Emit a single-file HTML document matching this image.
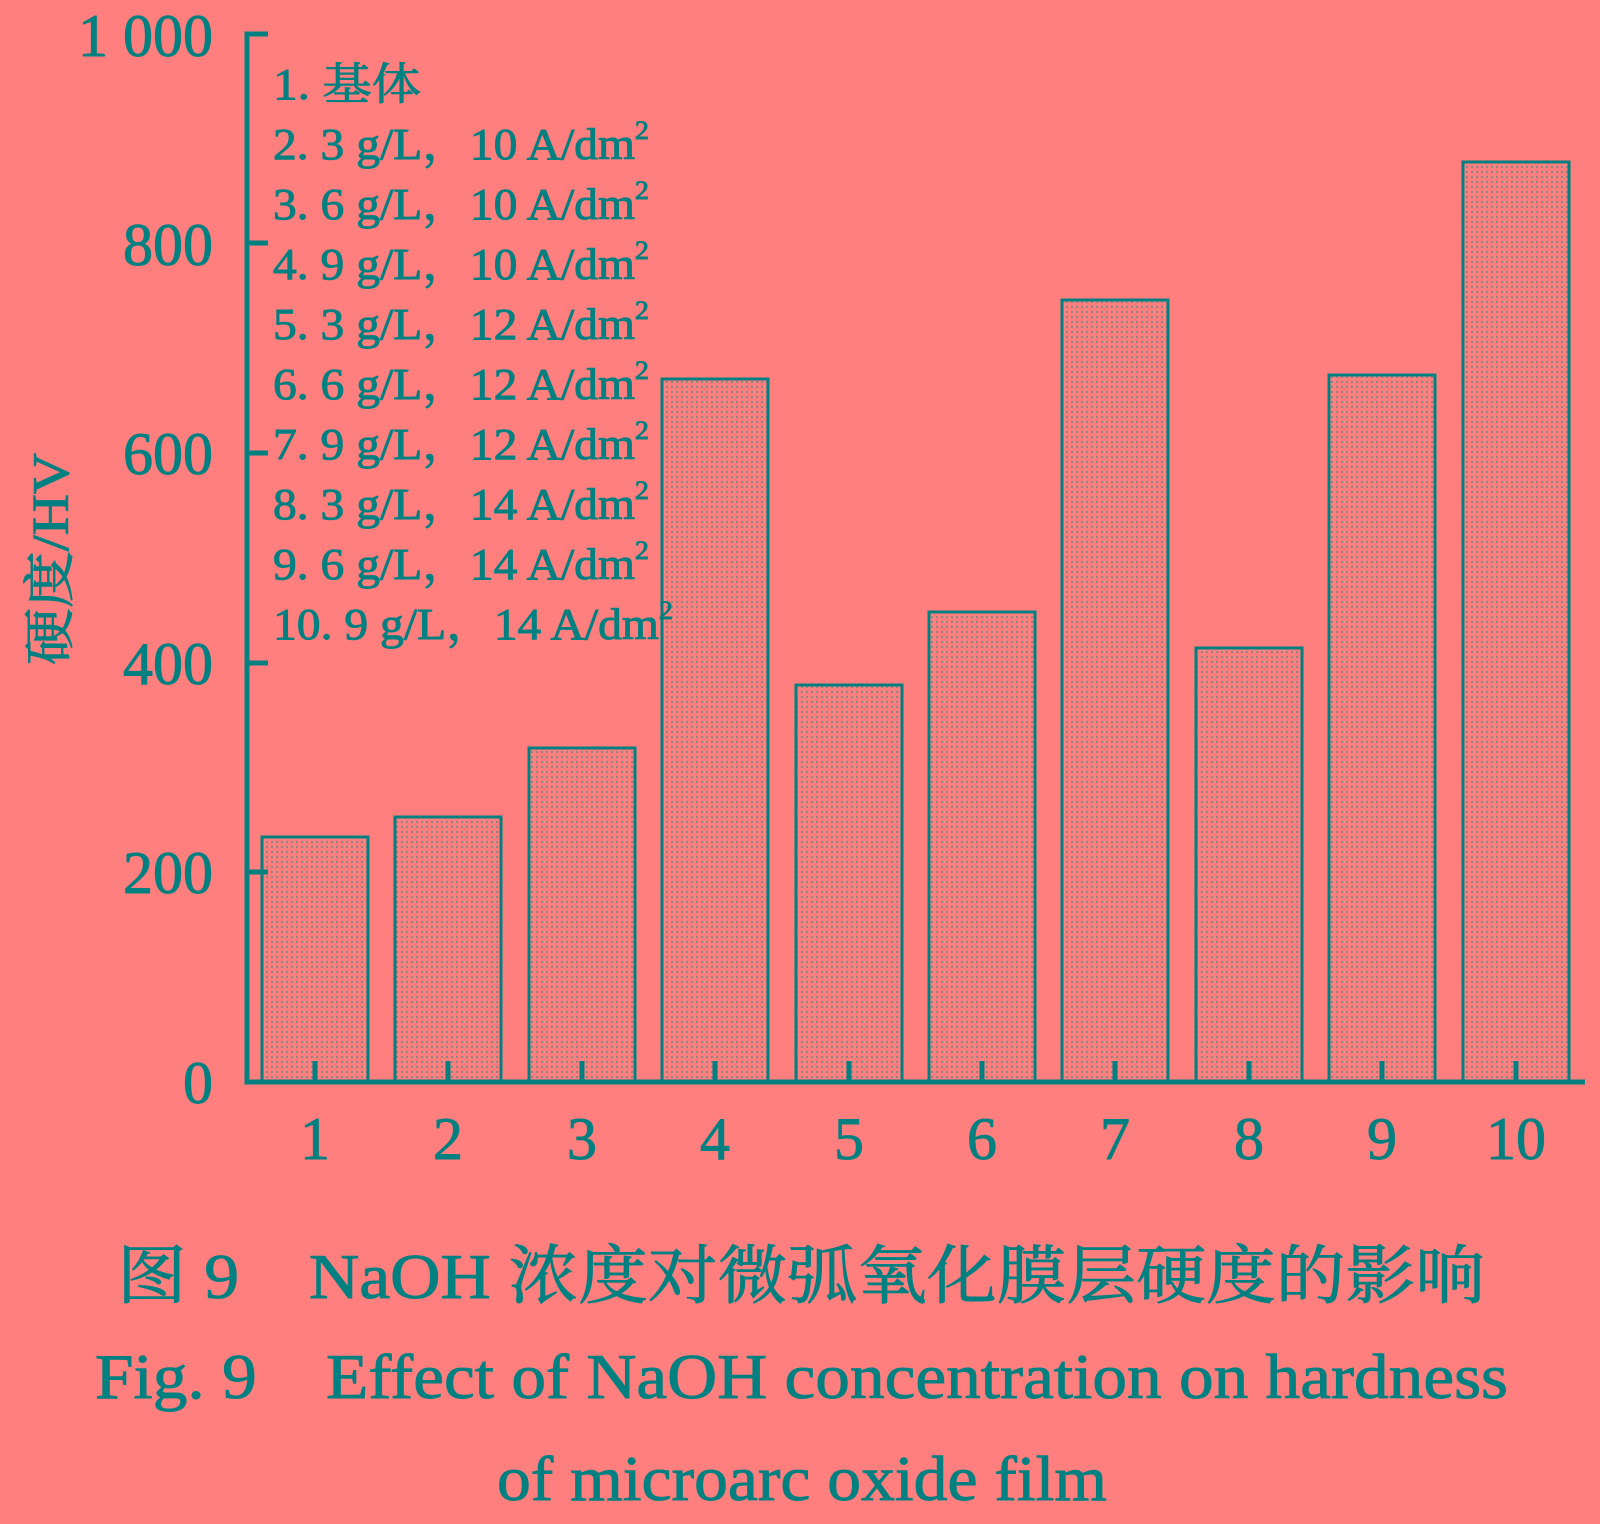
<!DOCTYPE html>
<html><head><meta charset="utf-8"><style>
html,body{margin:0;padding:0;background:#FF7F7F;}
svg{display:block;}
text{fill:#008080;stroke:#008080;stroke-width:0.9;font-family:"Liberation Serif","Noto Serif CJK SC",serif;}
</style></head><body>
<svg width="1600" height="1524" viewBox="0 0 1600 1524" xmlns="http://www.w3.org/2000/svg">
<defs>
<pattern id="dots" width="5" height="5" patternUnits="userSpaceOnUse">
<rect width="5" height="5" fill="#FF7F7F"/>
<rect x="1" y="1" width="2" height="2" fill="#2f8a86" opacity="0.55"/>
</pattern>
</defs>
<rect width="1600" height="1524" fill="#FF7F7F"/>
<g stroke="#008080" stroke-width="3" fill="url(#dots)">
<rect x="262" y="837" width="106" height="245"/>
<rect x="395" y="817" width="106" height="265"/>
<rect x="529" y="748" width="106" height="334"/>
<rect x="662" y="379" width="106" height="703"/>
<rect x="796" y="685" width="106" height="397"/>
<rect x="929" y="612" width="106" height="470"/>
<rect x="1062" y="300" width="106" height="782"/>
<rect x="1196" y="648" width="106" height="434"/>
<rect x="1329" y="375" width="106" height="707"/>
<rect x="1463" y="162" width="106" height="920"/>
</g>
<g stroke="#008080" stroke-width="5" fill="none">
<polyline points="268,34 247,34 247,1082 1585,1082"/>
<line x1="247" y1="243" x2="268" y2="243"/>
<line x1="247" y1="453" x2="268" y2="453"/>
<line x1="247" y1="663" x2="268" y2="663"/>
<line x1="247" y1="872" x2="268" y2="872"/>
<line x1="315" y1="1082" x2="315" y2="1061"/>
<line x1="448" y1="1082" x2="448" y2="1061"/>
<line x1="582" y1="1082" x2="582" y2="1061"/>
<line x1="715" y1="1082" x2="715" y2="1061"/>
<line x1="849" y1="1082" x2="849" y2="1061"/>
<line x1="982" y1="1082" x2="982" y2="1061"/>
<line x1="1115" y1="1082" x2="1115" y2="1061"/>
<line x1="1249" y1="1082" x2="1249" y2="1061"/>
<line x1="1382" y1="1082" x2="1382" y2="1061"/>
<line x1="1516" y1="1082" x2="1516" y2="1061"/>
</g>
<g font-size="60" text-anchor="end">
<text x="213" y="56">1 000</text>
<text x="213" y="265">800</text>
<text x="213" y="474">600</text>
<text x="213" y="684">400</text>
<text x="213" y="893">200</text>
<text x="213" y="1103">0</text>
</g>
<g font-size="60" text-anchor="middle">
<text x="315" y="1159">1</text>
<text x="448" y="1159">2</text>
<text x="582" y="1159">3</text>
<text x="715" y="1159">4</text>
<text x="849" y="1159">5</text>
<text x="982" y="1159">6</text>
<text x="1115" y="1159">7</text>
<text x="1249" y="1159">8</text>
<text x="1382" y="1159">9</text>
<text x="1516" y="1159">10</text>
</g>
<text transform="translate(68,559) rotate(-90)" font-size="52" text-anchor="middle" textLength="212" lengthAdjust="spacingAndGlyphs">硬度/HV</text>
<g font-size="44">
<text x="273" y="99" textLength="148" lengthAdjust="spacingAndGlyphs">1. 基体</text>
<text x="273" y="159" textLength="376" lengthAdjust="spacingAndGlyphs">2. 3 g/L，10 A/dm<tspan font-size="26" dy="-20">2</tspan></text>
<text x="273" y="219" textLength="376" lengthAdjust="spacingAndGlyphs">3. 6 g/L，10 A/dm<tspan font-size="26" dy="-20">2</tspan></text>
<text x="273" y="279" textLength="376" lengthAdjust="spacingAndGlyphs">4. 9 g/L，10 A/dm<tspan font-size="26" dy="-20">2</tspan></text>
<text x="273" y="339" textLength="376" lengthAdjust="spacingAndGlyphs">5. 3 g/L，12 A/dm<tspan font-size="26" dy="-20">2</tspan></text>
<text x="273" y="399" textLength="376" lengthAdjust="spacingAndGlyphs">6. 6 g/L，12 A/dm<tspan font-size="26" dy="-20">2</tspan></text>
<text x="273" y="459" textLength="376" lengthAdjust="spacingAndGlyphs">7. 9 g/L，12 A/dm<tspan font-size="26" dy="-20">2</tspan></text>
<text x="273" y="519" textLength="376" lengthAdjust="spacingAndGlyphs">8. 3 g/L，14 A/dm<tspan font-size="26" dy="-20">2</tspan></text>
<text x="273" y="579" textLength="376" lengthAdjust="spacingAndGlyphs">9. 6 g/L，14 A/dm<tspan font-size="26" dy="-20">2</tspan></text>
<text x="273" y="639" textLength="400" lengthAdjust="spacingAndGlyphs">10. 9 g/L，14 A/dm<tspan font-size="26" dy="-20">2</tspan></text>
</g>
<g font-size="64">
<text x="117" y="1298" textLength="1368" lengthAdjust="spacingAndGlyphs">图 9　NaOH 浓度对微弧氧化膜层硬度的影响</text>
<text x="95" y="1398" textLength="1413" lengthAdjust="spacingAndGlyphs">Fig. 9　Effect of NaOH concentration on hardness</text>
<text x="497" y="1500" textLength="610" lengthAdjust="spacingAndGlyphs">of microarc oxide film</text>
</g>
</svg>
</body></html>
